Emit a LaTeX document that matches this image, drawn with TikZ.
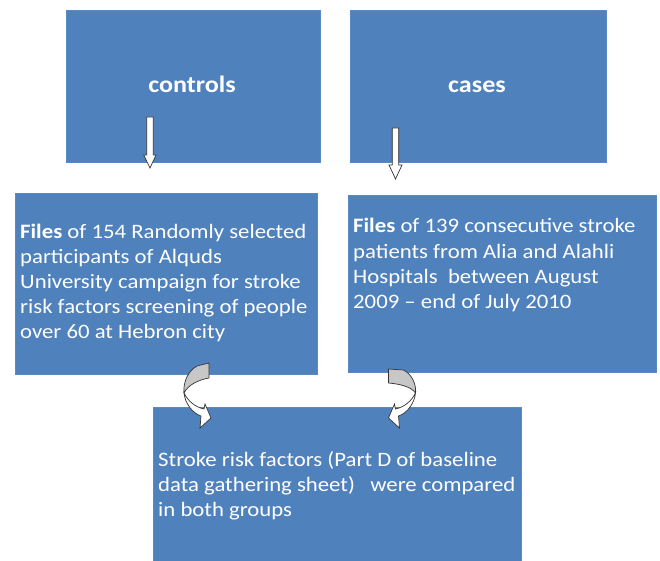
\documentclass[tikz,border=0pt]{standalone}
\usepackage{fontspec}
\setmainfont{Carlito}
\newcommand\stretchlines[1]{\scalebox{1.11}[1]{\vtop{\fontsize{20.5}{25}\selectfont#1}}}
\begin{document}
\begin{tikzpicture}[x=1pt,y=-1pt,
  box/.style={draw=boxedge,line width=0.6pt,fill=boxblue,inner sep=0pt,anchor=north west},
  txt/.style={text=white,inner sep=0pt,anchor=base west},
  ttl/.style={text=white,font=\fontsize{23.5}{28}\selectfont\bfseries,inner sep=0pt,anchor=base},
  arr/.style={draw=black!80,line width=0.7pt,fill=white,line join=miter},
  garr/.style={draw=black!80,line width=0.7pt,fill=black!22,line join=round}]
\definecolor{boxblue}{HTML}{4F81BD}
\definecolor{boxedge}{HTML}{5A8AC6}
\useasboundingbox (0,0) rectangle (660,561);
% boxes
\node[box,minimum width=254pt,minimum height=152pt] (ctl) at (66,10) {};
\node[box,minimum width=256pt,minimum height=152pt] (cas) at (350,10) {};
\node[box,minimum width=302pt,minimum height=181pt] (fl) at (15,193) {};
\node[box,minimum width=308pt,minimum height=177pt] (fr) at (348,195) {};
\node[box,minimum width=368pt,minimum height=156pt] (res) at (153,407) {};
% titles
\node[ttl] (tctl) at (192,93) {\scalebox{1.11}[1]{controls}};
\node[ttl] (tcas) at (477,93) {\scalebox{1.11}[1]{cases}};
% texts
\node[txt] (tfl) at (20,238) {\stretchlines{\hbox{\textbf{Files} of 154 Randomly selected}\hbox{participants of Alquds}\hbox{University campaign for stroke}\hbox{risk factors screening of people}\hbox{over 60 at Hebron city}}};
\node[txt] (tfr) at (353,233) {\stretchlines{\hbox{\textbf{Files} of 139 consecutive stroke}\hbox{patients from Alia and Alahli}\hbox{Hospitals\ \ between August}\hbox{2009 -- end of July 2010}}};
\node[txt] (tres) at (158,466) {\stretchlines{\hbox{Stroke risk factors (Part D of baseline}\hbox{data gathering sheet)\ \ \ were compared}\hbox{in both groups}}};
% straight down arrows
\coordinate (a1) at (150,117);
\coordinate (a2) at (395.5,128);
\draw[arr] (a1) ++(-3.3,0) -- ++(0,38) -- ++(-3,0) -- (150,168) -- (156,155) -- ++(-2.7,0) -- ++(0,-38) -- cycle;
\draw[arr] (a2) ++(-3.2,0) -- ++(0,37) -- ++(-3.3,0) -- (395.5,179) -- (402,165) -- ++(-3.3,0) -- ++(0,-37) -- cycle;
% curved arrows (left)
\begin{scope}
\coordinate (tw1) at (184,393);
\draw[arr] (tw1) .. controls (185,403) and (192,413) .. (201,416) -- (200,428) -- (211,418) -- (205,404) -- (204,409) .. controls (195,407) and (188,401) .. (tw1) -- cycle;
\draw[garr] (197,366) -- (209,363) -- (209,378) .. controls (198,380) and (188,385) .. (tw1) .. controls (183,382) and (188,371) .. (197,366) -- cycle;
\end{scope}
% curved arrows (right, mirrored)
\begin{scope}[shift={(599.5,0)},xscale=-1]
\coordinate (tw2) at (184,393);
\draw[arr] (tw2) .. controls (185,403) and (192,413) .. (201,416) -- (200,428) -- (211,418) -- (205,404) -- (204,409) .. controls (195,407) and (188,401) .. (tw2) -- cycle;
\draw[garr] (196,370) -- (211,369) -- (211,383) .. controls (199,384) and (188,387) .. (tw2) .. controls (183,384) and (188,374) .. (196,370) -- cycle;
\end{scope}
\end{tikzpicture}
\end{document}
